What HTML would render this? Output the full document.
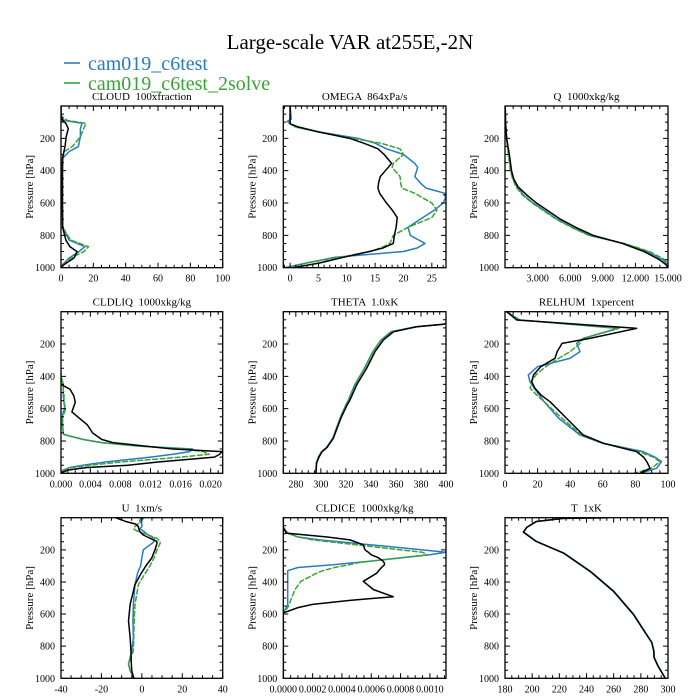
<!DOCTYPE html>
<html><head><meta charset="utf-8"><style>
html,body{margin:0;padding:0;background:#fff;}
svg{display:block;font-family:"Liberation Serif",serif;}
svg text{white-space:pre;}
</style></head><body>
<svg id="fig" width="700" height="700" viewBox="0 0 700 700">
<text x="350" y="49" font-size="21" text-anchor="middle">Large-scale VAR at255E,-2N</text>
<g>
<line x1="64" y1="63" x2="80" y2="63" stroke="#2a7bbf" stroke-width="1.6"/>
<text x="88" y="70" font-size="20" fill="#2a7bbf">cam019_c6test</text>
<line x1="64" y1="83" x2="80" y2="83" stroke="#3ba336" stroke-width="1.6"/>
<text x="88" y="90" font-size="20" fill="#3ba336">cam019_c6test_2solve</text>
</g>
</svg>
<script>
// ---- data ----
const cloudP=[0,60,90,107,140,190,251,282,324,400,600,750,829,870,901,940,980,1000];
const cloudBlack=[0,0,1,3,4.5,3.2,2.5,1.8,1,0.8,0.8,1,3,5.5,10,8,2,0];
const cloudBlue=[0,0,2,13,12,12,10.7,5,1,1,1,1,5,14.8,11,5,1,0];
const cloudGreen=[0,0,4,15.5,14,12,7,2,0.8,1,1,1,6,17,14,6,1,0];

const omegaP=[0,80,95,110,130,160,200,230,265,300,355,380,437,477,508,540,570,600,643,690,750,800,850,878,900,935,970,1000];
const omegaBlack=[0,0,0,0,1.5,5,10.5,13,15.5,16.6,17.9,17.3,15.9,15.6,15.5,15.8,16.4,17,18,18.9,18.7,18.4,18.2,16.4,14,9.5,5.3,0.5];
const omegaBlue=[0,0.2,-0.5,0,1,5,12,15,17,20,22,22.5,22,23,24,27.3,27.4,27,25.5,23.4,20.8,21.2,23.8,22.4,20,8,3,-1];
const omegaGreen=[0,0,0,0,1,5,11,16,19.4,20,18.2,18,19.4,19.5,19.7,22,23.5,25,25.9,25,20.8,18.2,17.6,16,14,9,3,0];

const qP=[0,100,200,300,400,450,500,550,600,650,700,750,800,850,900,950,980,1000];
const qBlack=[0.02,0.05,0.15,0.4,0.6,0.8,1.2,2.0,2.9,4.0,5.1,6.5,8.1,10.8,12.8,14.2,14.8,15];
const qBlue=[0.02,0.05,0.15,0.35,0.55,0.75,1.1,1.7,2.6,3.7,4.8,6.2,7.8,10.9,13.1,14.5,15,15];
const qGreen=[0.02,0.05,0.15,0.3,0.5,0.7,1.0,1.6,2.5,3.6,4.7,6.1,7.7,11.0,13.3,14.7,15.1,15];

const liqP=[0,300,400,450,480,520,560,600,620,650,700,750,760,790,810,830,850,866,882,900,930,950,965,980,1000];
const liqBlack=[0,0,0,0.0001,0.0013,0.0018,0.002,0.0017,0.00155,0.0023,0.0036,0.0043,0.0046,0.0055,0.007,0.011,0.015,0.0215,0.0212,0.0205,0.013,0.009,0.0034,0.001,0];
const liqBlue=[0,0,0.0001,0.0004,0.0004,0.0004,0.0005,0.0006,0.0004,0.0003,0.0003,0.0004,0.0005,0.003,0.0055,0.01,0.0176,0.0172,0.015,0.012,0.006,0.003,0.0012,0.0004,0];
const liqGreen=[0,0,0.0001,0.0004,0.0004,0.0005,0.0005,0.0007,0.0006,0.0003,0.0003,0.0004,0.0005,0.003,0.0055,0.01,0.0165,0.019,0.0198,0.016,0.008,0.004,0.0015,0.0004,0];

const thetaP=[72,78,93,124,175,247,350,453,546,577,650,720,783,840,866,900,936,970,1000];
const thetaBlack=[400,398,376.6,358,350,343.3,336.6,328.6,323.3,321,316.5,313,310,305,301,298.5,296.6,296.3,296.1];
const thetaBlue=[400,398,376,356,348,341.5,334.8,327,322,320,315.8,312.5,309.5,304.5,300.5,298,296.4,296.2,296];
const thetaGreen=[400,398,376.2,356.3,348.3,341.8,335,327.3,322.2,320.2,316,312.7,309.7,304.7,300.7,298.2,296.5,296.3,296];

const rhP=[0,51,103,165,196,247,288,340,391,433,474,515,557,660,763,814,866,900,928,969,1000];
const rhBlack=[1,7.2,80.8,52,35,32,30.7,22,17.5,16.4,18.4,22,27.6,37.8,48,60.3,80.8,85,87,89,82.8];
const rhBlue=[1,9,69,48,44,46,40,20,14.3,15.3,18,21,24,33,46,60,84.8,92,96,93,83];
const rhGreen=[1,9,70,48,46,40,33,25,19,16,15.5,19.4,24,35,47,60,82,91,95,90,79];

const uP=[0,14,24,40,56,70,86,107,128,148,160,200,251,300,340,416,540,643,746,830,911,952,1000];
const uBlack=[-13,-10,-7.8,-3,-1.7,-1.5,-1.1,0.6,4,7.4,7.5,6.5,4.9,2,0,-3.4,-5.8,-6.6,-5.8,-5.4,-5.2,-5,-4];
const uBlue=[0,-1,-1,0,0,-1,1.1,3,6,6,5,0.7,0,-0.6,-2,-3.4,-4.2,-4.4,-4.2,-5,-6.6,-5.8,-4];
const uGreen=[1,0,-1,-2,-3.5,-4,-2,3,7.4,9,9,7.5,6,4,2,-1.7,-3.4,-3.8,-4,-4.2,-6.6,-5.8,-4];

const iceP=[0,60,96,120,138,169,200,215,231,250,270,282,293,310,330,344,396,447,492,515,540,560,593,1000];
const iceBlack=[0,0,0.00002,0.0003,0.000455,0.000546,0.000557,0.00058,0.0006,0.00065,0.00068,0.00069,0.00069,0.00067,0.00065,0.00064,0.000546,0.000614,0.00075,0.000455,0.0002,0.0001,0,0];
const iceBlue=[0,0,0.00003,0.0001,0.00025,0.0006,0.00095,0.00111,0.001,0.0008,0.0006,0.00046,0.00034,0.0001,0.00003,0.00003,0.00003,0.00003,0.00003,0.00003,0.00003,0.00002,0,0];
const iceGreen=[0,0,0.00003,0.0001,0.0002,0.0005,0.0008,0.00095,0.00098,0.0008,0.0006,0.0005,0.00045,0.00035,0.00027,0.00023,0.00012,0.00008,0.00006,0.00005,0.00004,0.00003,0,0];

const tP=[0,4,24,60,90,148,220,334,458,602,700,777,830,870,921,1000];
const tBlack=[255,223,203,196,193.5,203,223,242.6,259.8,274.5,282,288,289.5,289.7,292.4,298];
const tBlue=[255,223,203,196,193.8,203.3,223.3,243,260.2,274.8,282.3,288.2,289.7,289.9,292.6,298];
const tGreen=[255,223,203,196,193.6,203.1,223.1,242.8,260,274.6,282.1,288.1,289.6,289.8,292.5,298];

const yTicks=[200,400,600,800,1000];

// ---- layout ----
const NS="http://www.w3.org/2000/svg";
const svg=document.getElementById('fig');
const colX=[[61,222.7],[283.3,446],[505,668]];
const rowY=[[106,267.7],[311.7,473.3],[517.7,678.3]];
function mk(tag,attrs,parent){const e=document.createElementNS(NS,tag);for(const k in attrs)e.setAttribute(k,attrs[k]);(parent||svg).appendChild(e);return e;}

const panels=[
 {name:'cloud',title:'CLOUD  100xfraction',r:0,c:0,xmin:0,xmax:100,ticks:[0,20,40,60,80,100],minor:5,fmt:v=>v.toFixed(0),p:cloudP,s:[cloudBlue,cloudGreen,cloudBlack]},
 {name:'omega',title:'OMEGA  864xPa/s',r:0,c:1,xmin:-1.2,xmax:27.5,ticks:[0,5,10,15,20,25],minor:1,fmt:v=>v.toFixed(0),p:omegaP,s:[omegaBlue,omegaGreen,omegaBlack]},
 {name:'q',title:'Q  1000xkg/kg',r:0,c:2,xmin:0,xmax:15,ticks:[3,6,9,12,15],minor:0.75,fmt:v=>v.toFixed(3),p:qP,s:[qBlue,qGreen,qBlack]},
 {name:'cldliq',title:'CLDLIQ  1000xkg/kg',r:1,c:0,xmin:0.0001,xmax:0.0216,ticks:[0.0001,0.004,0.008,0.012,0.016,0.020],minor:0.001,fmt:v=>v<0.001?'0.000':v.toFixed(3),p:liqP,s:[liqBlue,liqGreen,liqBlack]},
 {name:'theta',title:'THETA  1.0xK',r:1,c:1,xmin:270,xmax:400,ticks:[280,300,320,340,360,380,400],minor:5,fmt:v=>v.toFixed(0),p:thetaP,s:[thetaBlue,thetaGreen,thetaBlack]},
 {name:'relhum',title:'RELHUM  1xpercent',r:1,c:2,xmin:0,xmax:100,ticks:[0,20,40,60,80,100],minor:5,fmt:v=>v.toFixed(0),p:rhP,s:[rhBlue,rhGreen,rhBlack]},
 {name:'u',title:'U  1xm/s',r:2,c:0,xmin:-40,xmax:40,ticks:[-40,-20,0,20,40],minor:5,fmt:v=>v.toFixed(0),p:uP,s:[uBlue,uGreen,uBlack]},
 {name:'cldice',title:'CLDICE  1000xkg/kg',r:2,c:1,xmin:0,xmax:0.00111,ticks:[0,0.0002,0.0004,0.0006,0.0008,0.0010],minor:0.00005,fmt:v=>v.toFixed(4),p:iceP,s:[iceBlue,iceGreen,iceBlack]},
 {name:'t',title:'T  1xK',r:2,c:2,xmin:180,xmax:300,ticks:[180,200,220,240,260,280,300],minor:5,fmt:v=>v.toFixed(0),p:tP,s:[tBlue,tGreen,tBlack]}
];
const colors=['#2a7bbf','#3ba336','#000'];
const sNames=['c6test','c6test-2solve','control'];

panels.forEach(pn=>{
 const [x0,x1]=colX[pn.c],[y0,y1]=rowY[pn.r];
 const sx=v=>x0+(v-pn.xmin)/(pn.xmax-pn.xmin)*(x1-x0);
 const sy=p=>y0+p/1000*(y1-y0);
 const g=mk('g',{});
 
 
 const t=mk('text',{x:(x0+x1)/2,y:y0-6,'font-size':11,'text-anchor':'middle'},g);
 t.textContent=pn.title;
 
 
 const cp=mk('clipPath',{id:'cp-'+pn.name},g);
 mk('rect',{x:x0,y:y0,width:x1-x0,height:y1-y0},cp);
 pn.s.forEach((arr,i)=>{
  const d=arr.map((v,k)=>(k?'L':'M')+sx(v).toFixed(2)+','+sy(pn.p[k]).toFixed(2)).join('');
  const path=mk('path',{d:d,fill:'none',stroke:colors[i],'stroke-width':1.5,'stroke-linejoin':'round','clip-path':'url(#cp-'+pn.name+')'},g);
  if(i===1)path.setAttribute('stroke-dasharray','6,1.5');
  
  
 });
 const fr=mk('rect',{x:x0,y:y0,width:x1-x0,height:y1-y0,fill:'none',stroke:'#000','stroke-width':1.3},g);
 
 
 let td='';
 for(let p=50;p<1000;p+=50){const y=sy(p);const L=(p%200===0)?5:3;td+=`M${x0},${y}h${L}M${x1},${y}h${-L}`;}
 const t0=Math.ceil((pn.xmin-1e-9)/pn.minor)*pn.minor;
 for(let v=t0;v<=pn.xmax+1e-12;v+=pn.minor){const x=sx(v);const maj=pn.ticks.some(tv=>Math.abs(tv-v)<pn.minor*0.3);const L=maj?5:3;td+=`M${x},${y1}v${-L}M${x},${y0}v${L}`;}
 const tp=mk('path',{d:td,stroke:'#000','stroke-width':1,fill:'none'},g);
 
 
 yTicks.forEach(p=>{const e=mk('text',{x:x0-6,y:sy(p)+3.5,'font-size':10,'text-anchor':'end'},g);e.textContent=p;
  
  });
 pn.ticks.forEach(v=>{const e=mk('text',{x:sx(v),y:y1+14,'font-size':10,'text-anchor':'middle'},g);e.textContent=pn.fmt(v);
  
  });
 const yl=mk('text',{x:0,y:0,'font-size':11,'text-anchor':'middle',transform:`translate(${x0-28},${(y0+y1)/2}) rotate(-90)`},g);
 yl.textContent='Pressure [hPa]';
 
 
});
</script>
</body></html>
